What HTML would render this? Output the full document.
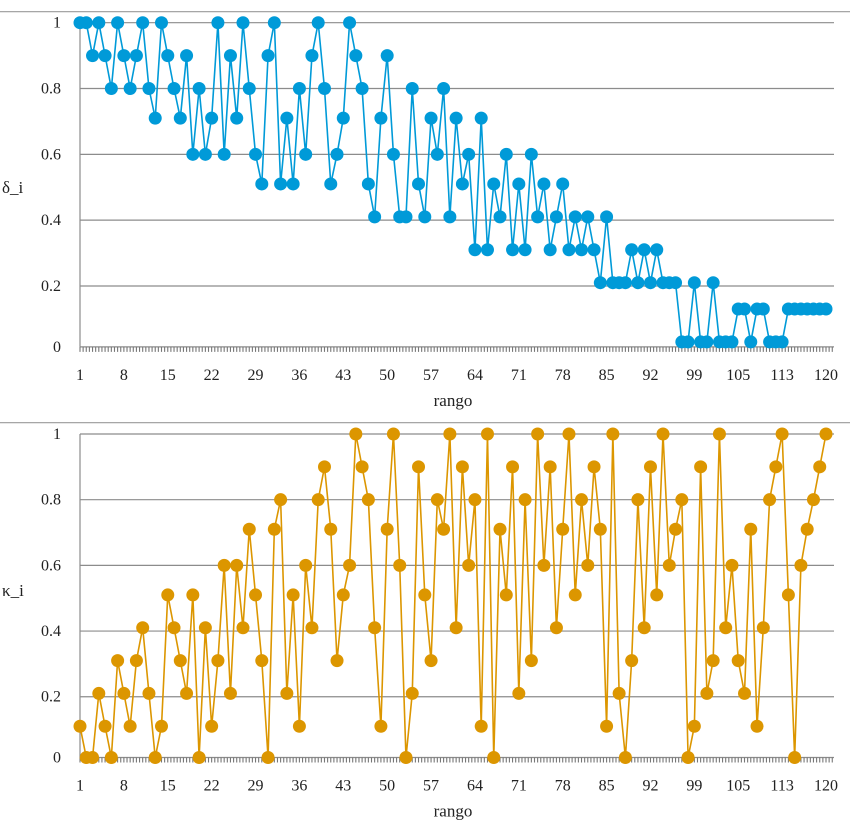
<!DOCTYPE html>
<html><head><meta charset="utf-8"><style>
html,body{margin:0;padding:0;background:#fff;}
svg{display:block;font-family:"Liberation Serif",serif;}
</style></head><body>
<svg id="chart" width="850" height="830" viewBox="0 0 850 830" xmlns="http://www.w3.org/2000/svg"></svg>
<script>
const categoryTickLabels = ["1","8","15","22","29","36","43","50","57","64","71","78","85","92","99","105","113","120"];
const yTickValues = [1,0.8,0.6,0.4,0.2,0.015];
const yTickLabels = ["1","0.8","0.6","0.4","0.2","0"];
const deltaValues = [1,1,0.9,1,0.9,0.8,1,0.9,0.8,0.9,1,0.8,0.71,1,0.9,0.8,0.71,0.9,0.6,0.8,0.6,0.71,1,0.6,0.9,0.71,1,0.8,0.6,0.51,0.9,1,0.51,0.71,0.51,0.8,0.6,0.9,1,0.8,
0.51,0.6,0.71,1,0.9,0.8,0.51,0.41,0.71,0.9,0.6,0.41,0.41,0.8,0.51,0.41,0.71,0.6,0.8,0.41,0.71,0.51,0.6,0.31,0.71,0.31,0.51,0.41,0.6,0.31,0.51,0.31,0.6,0.41,0.51,0.31,0.41,0.51,0.31,0.41,0.31,
0.41,0.31,0.21,0.41,0.21,0.21,0.21,0.31,0.21,0.31,0.21,0.31,0.21,0.21,0.21,0.03,0.03,0.21,0.03,0.03,0.21,0.03,0.03,0.03,0.13,0.13,0.03,0.13,0.13,0.03,0.03,0.03,0.13,0.13,0.13,0.13,0.13,0.13,0.13];
const kappaValues = [0.11,0.015,0.015,0.21,0.11,0.015,0.31,0.21,0.11,0.31,0.41,0.21,0.015,0.11,0.51,0.41,0.31,0.21,0.51,0.015,0.41,0.11,0.31,0.6,0.21,0.6,0.41,0.71,0.51,0.31,0.015,0.71,0.8,0.21,0.51,0.11,0.6,0.41,0.8,0.9,
0.71,0.31,0.51,0.6,1,0.9,0.8,0.41,0.11,0.71,1,0.6,0.015,0.21,0.9,0.51,0.31,0.8,0.71,1,0.41,0.9,0.6,0.8,0.11,1,0.015,0.71,0.51,0.9,0.21,0.8,0.31,1,0.6,0.9,0.41,0.71,1,0.51,
0.8,0.6,0.9,0.71,0.11,1,0.21,0.015,0.31,0.8,0.41,0.9,0.51,1,0.6,0.71,0.8,0.015,0.11,0.9,0.21,0.31,1,0.41,0.6,0.31,0.21,0.71,0.11,0.41,0.8,0.9,1,0.51,0.015,0.6,0.71,0.8,0.9,1];

const NS="http://www.w3.org/2000/svg";
const svg=document.getElementById('chart');
function mk(tag,attrs,parent){const e=document.createElementNS(NS,tag);for(const k in attrs)e.setAttribute(k,attrs[k]);(parent||svg).appendChild(e);return e;}
const x0=80, x1=826, N=120;
function xScale(i){return x0+i*(x1-x0)/(N-1);}

function drawPanel(cfg){
  const g=mk('g',{});
  
  
  const yS=v=>cfg.yTop+(1-v)*cfg.k;
  const sep=mk('line',{x1:0,x2:850,y1:cfg.sepY,y2:cfg.sepY,stroke:'#999','stroke-width':1.2},g);
  
  
  yTickValues.forEach((v,j)=>{
    const y=yS(v);
    if(j<yTickValues.length-1){
      const gl=mk('line',{x1:x0,x2:x1+8,y1:y,y2:y,stroke:'#8c8c8c','stroke-width':1.2},g);
      
      
    }
    const t=mk('text',{x:61,y:y+5,'text-anchor':'end','font-size':16,fill:'#222'},g);
    t.textContent=yTickLabels[j];
    
    
  });
  const axisY=yS(yTickValues[yTickValues.length-1]);
  const ya=mk('line',{x1:x0,x2:x0,y1:cfg.yTop,y2:axisY,stroke:'#8c8c8c','stroke-width':1.2},g);
  
  
  const xa=mk('line',{x1:x0,x2:x1+8,y1:axisY,y2:axisY,stroke:'#8c8c8c','stroke-width':1.2},g);
  
  
  let d='';
  const half=(x1-x0)/(N-1)/2;
  for(let x=x0;x<=x1+8;x+=half){d+='M'+x.toFixed(2)+' '+axisY+'v5';}
  const tk=mk('path',{d:d,stroke:'#777','stroke-width':1.1,fill:'none'},g);
  
  
  categoryTickLabels.forEach((lab,j)=>{
    const t=mk('text',{x:xScale(j*7),y:axisY+33,'text-anchor':'middle','font-size':16,fill:'#222'},g);
    t.textContent=lab;
    
    
  });
  const xt=mk('text',{x:453,y:axisY+59,'text-anchor':'middle','font-size':17,fill:'#222'},g);
  xt.textContent='rango';
  
  
  const yt=mk('text',{x:2,y:cfg.yTitleY,'font-size':17,fill:'#222'},g);
  yt.textContent=cfg.yTitle;
  
  
  const pts=cfg.values.map((v,i)=>xScale(i).toFixed(2)+','+yS(v).toFixed(2)).join(' ');
  const pl=mk('polyline',{points:pts,fill:'none',stroke:cfg.color,'stroke-width':1.6},g);
  
  
  cfg.values.forEach((v,i)=>{
    const c=mk('circle',{cx:xScale(i),cy:yS(v),r:6.5,fill:cfg.color},g);
    
    
  });
}
drawPanel({name:'delta-chart',sepY:11.7,yTop:22.7,k:329.1,values:deltaValues,color:'#009ad8',yTitle:'δ_i',yTitleY:193});
drawPanel({name:'kappa-chart',sepY:422.7,yTop:434,k:328.4,values:kappaValues,color:'#dc9600',yTitle:'κ_i',yTitleY:596});
</script>
</body></html>
